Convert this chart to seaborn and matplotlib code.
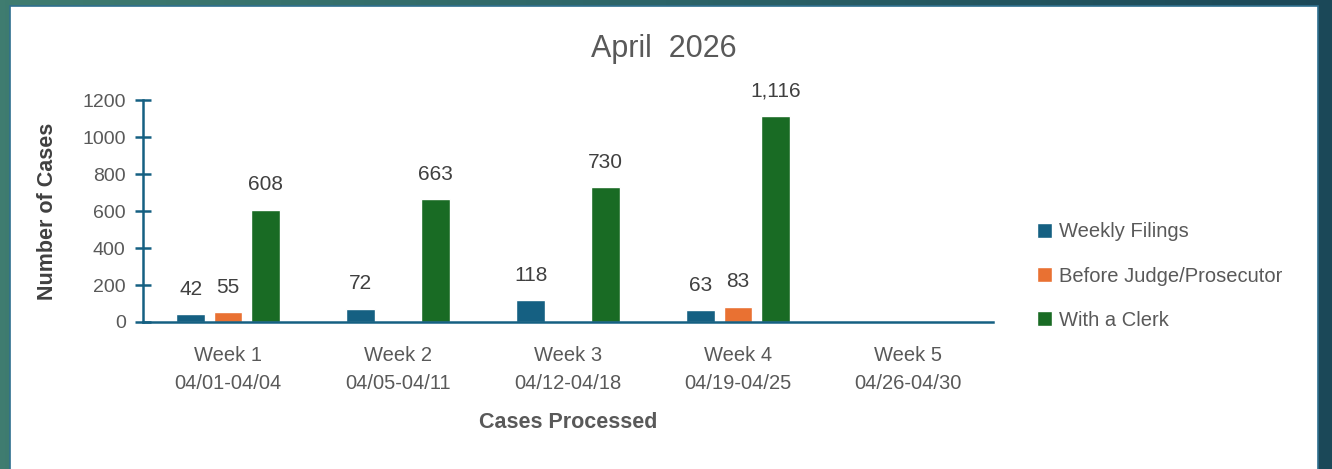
import numpy as np
import pandas as pd
import seaborn as sns
import matplotlib.pyplot as plt
from matplotlib.patches import Rectangle
from matplotlib.colors import LinearSegmentedColormap

weeks = ['Week 1\n04/01-04/04', 'Week 2\n04/05-04/11', 'Week 3\n04/12-04/18',
         'Week 4\n04/19-04/25', 'Week 5\n04/26-04/30']
series = ['Weekly Filings', 'Before Judge/Prosecutor', 'With a Clerk']
weekly_filings = [42, 72, 118, 63, None]
before_judge = [55, None, None, 83, None]
with_clerk = [608, 663, 730, 1116, None]
colors = ['#156082', '#E97132', '#196B24']

rows = []
for name, vals in zip(series, [weekly_filings, before_judge, with_clerk]):
    for w, v in zip(weeks, vals):
        if v is not None:
            rows.append([w, name, v])
df = pd.DataFrame(rows, columns=['week', 'series', 'cases'])

sns.set_style('white')
plt.rcParams['font.family'] = ['Liberation Sans', 'DejaVu Sans']

fig = plt.figure(figsize=(13.32, 4.69), dpi=100)

# teal gradient backdrop + white panel
bg = fig.add_axes([0, 0, 1, 1], zorder=-10)
cmap = LinearSegmentedColormap.from_list('bg', ['#3f7c70', '#2c6468', '#1b4858'])
grad = np.linspace(0, 1, 256).reshape(1, -1)
bg.imshow(grad, aspect='auto', cmap=cmap, extent=[0, 1, 0, 1])
bg.add_patch(Rectangle((10 / 1332, -0.01), 1308 / 1332, 1 - 6 / 469 + 0.01,
                       facecolor='white', edgecolor='#2f6f8f', linewidth=1.2))
bg.set_xlim(0, 1)
bg.set_ylim(0, 1)
bg.axis('off')

ax = fig.add_axes([143 / 1332, 1 - 322 / 469, 850 / 1332, 222 / 469])
ax.set_facecolor('none')
sns.barplot(data=df, x='week', y='cases', hue='series', order=weeks, hue_order=series,
            palette=colors, width=0.66, gap=0.23, ax=ax, legend=True, saturation=1)

for c in ax.containers:
    ax.bar_label(c, labels=[f'{v:,.0f}' for v in c.datavalues], padding=11,
                 fontsize=15, color='#404040')

ax.set_xlim(-0.5, 4.5)
ax.set_ylim(0, 1200)
ax.set_yticks(range(0, 1201, 200))
for s in ['top', 'right']:
    ax.spines[s].set_visible(False)
for s in ['left', 'bottom']:
    ax.spines[s].set_color('#156082')
    ax.spines[s].set_linewidth(1.8)
ax.tick_params(axis='y', left=True, direction='inout', length=11, width=1.8,
               color='#156082', labelsize=14, labelcolor='#595959', pad=7)
ax.tick_params(axis='x', bottom=False, labelsize=14.5, labelcolor='#595959', pad=14)
for t in ax.get_xticklabels():
    t.set_linespacing(1.55)
ax.set_xlabel('')
ax.set_ylabel('')

fig.text(48 / 1332, 1 - 211 / 469, 'Number of Cases', rotation=90, ha='center', va='center',
         fontsize=15.5, fontweight='bold', color='#404040')
fig.text(568 / 1332, 1 - 422 / 469, 'Cases Processed', ha='center', va='center',
         fontsize=15.5, fontweight='bold', color='#595959')
fig.text(664 / 1332, 1 - 49 / 469, 'April  2026', ha='center', va='center',
         fontsize=22, color='#595959')

handles, labels = ax.get_legend_handles_labels()
ax.get_legend().remove()
fig.legend(handles, labels, loc='center left', bbox_to_anchor=(1019 / 1332, 1 - 276 / 469),
           frameon=False, fontsize=14.5, labelcolor='#595959', handlelength=0.75,
           handleheight=0.75, handletextpad=0.35, labelspacing=1.25)

fig.savefig('out.png', dpi=100)
